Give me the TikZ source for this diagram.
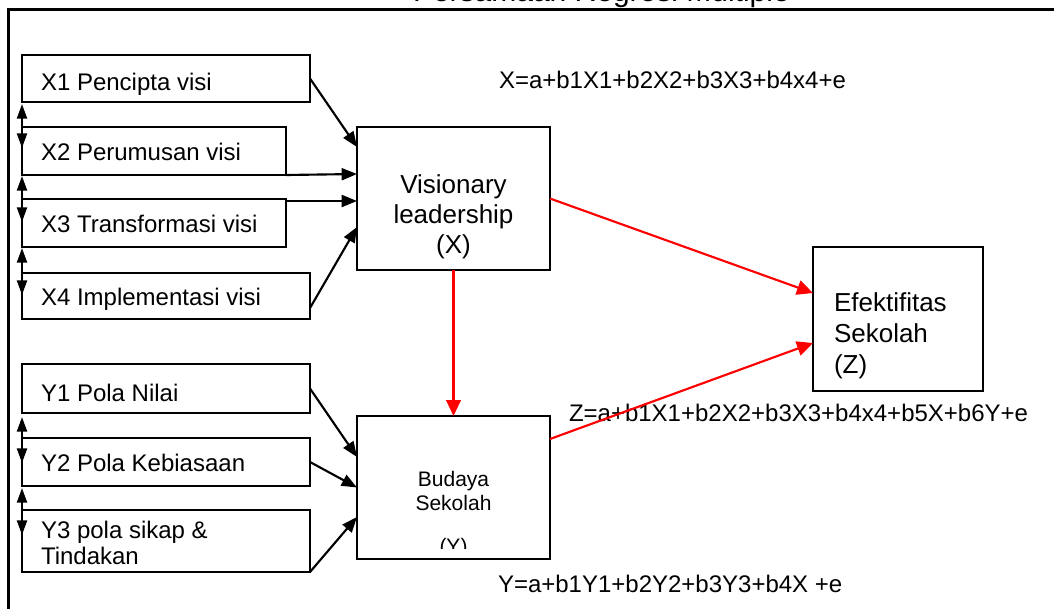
\documentclass[tikz,border=0pt]{standalone}
\usepackage{fontspec}
\setmainfont{Liberation Sans}
\usetikzlibrary{arrows.meta,calc}
\newcommand\fsz[2]{\fontsize{#1}{#2}\selectfont}
\tikzset{
  box/.style={draw,line width=1.5pt,inner sep=0pt,outer sep=0pt,anchor=north west},
  txt/.style={inner sep=0pt,outer sep=0pt,font=\fsz{18pt}{19.5pt}},
  blk/.style={line width=1.6pt,-{Triangle[length=11.5pt,width=9pt]}},
  dbl/.style={line width=1.6pt,{Triangle[length=11pt,width=7.5pt]}-{Triangle[length=11pt,width=7.5pt]}},
  redarr/.style={line width=1.6pt,red,-{Triangle[length=12pt,width=11pt]}}
}
\begin{document}
\begin{tikzpicture}[x=0.75pt,y=-0.75pt]
\useasboundingbox (0,0) rectangle (1054,608);
\clip (0,0) rectangle (1054,608);
% title (clipped) and frame
\node[txt,anchor=base west,font=\fsz{22.5pt}{26pt}] (title) at (413,1.5) {Persamaan Regresi Multiple};
\draw[line width=2.25pt] (8,640) -- (8,9) -- (1080,9);
% boxes
\node[box,minimum width=216pt,minimum height=35.25pt] (X1) at (22,55) {};
\node[box,minimum width=198pt,minimum height=36pt] (X2) at (22,127) {};
\node[box,minimum width=198pt,minimum height=36pt] (X3) at (22,199) {};
\node[box,minimum width=216pt,minimum height=34.5pt] (X4) at (22,273) {};
\node[box,minimum width=216pt,minimum height=36.75pt] (Y1) at (22,364) {};
\node[box,minimum width=216pt,minimum height=36pt] (Y2) at (22,438) {};
\node[box,minimum width=216pt,minimum height=46.5pt] (Y3) at (22,510) {};
\node[box,minimum width=144.75pt,minimum height=107.25pt] (V) at (357,127) {};
\node[box,minimum width=144.75pt,minimum height=107.25pt] (B) at (357,416) {};
\node[box,minimum width=127.5pt,minimum height=108pt] (E) at (813,247) {};
% box texts
\node[txt,anchor=base west] (tX1) at (41,90) {X1 Pencipta visi};
\node[txt,anchor=base west] (tX2) at (41,160) {X2 Perumusan visi};
\node[txt,anchor=base west] (tX3) at (41,232) {X3 Transformasi visi};
\node[txt,anchor=base west] (tX4) at (41,305) {X4 Implementasi visi};
\node[txt,anchor=base west] (tY1) at (41,401.5) {Y1 Pola Nilai};
\node[txt,anchor=base west] (tY2) at (41,471.5) {Y2 Pola Kebiasaan};
\node[txt,anchor=north west,align=left] (tY3) at (41,521.5) {Y3 pola sikap \&\\Tindakan};
\node[txt,anchor=north,align=center,font=\fsz{19.5pt}{22.5pt}] (tV) at (453.5,174.4) {Visionary\\leadership\\(X)};
\node[txt,anchor=north west,align=left,font=\fsz{19.5pt}{23.25pt}] (tE) at (834,293) {Efektifitas\\Sekolah\\(Z)};
\node[txt,anchor=north,align=center,font=\fsz{15.75pt}{18pt}] (tB) at (453.5,471.7) {Budaya\\Sekolah};
\begin{scope}
\clip (357,416) rectangle (550,548.5);
\node[txt,anchor=base,font=\fsz{15.75pt}{18pt}] (tBY) at (453.5,553) {(Y)};
\end{scope}
% equations
\node[txt,anchor=base west] (eqX) at (499,88.3) {X=a+b1X1+b2X2+b3X3+b4x4+e};
\node[txt,anchor=base west] (eqZ) at (569,421.7) {Z=a+b1X1+b2X2+b3X3+b4x4+b5X+b6Y+e};
\node[txt,anchor=base west] (eqY) at (498,592.7) {Y=a+b1Y1+b2Y2+b3Y3+b4X +e};
% double arrows on the left
\draw[dbl] ($(X1.south west)+(0,2)$) -- ($(X2.west)+(0,-3)$);
\draw[dbl] ($(X2.south west)+(0,1)$) -- ($(X3.west)+(0,-1)$);
\draw[dbl] ($(X3.south west)+(0,1)$) -- ($(X4.west)+(0,-1)$);
\draw[dbl] ($(Y1.south west)+(0,4)$) -- ($(Y2.west)+(0,1)$);
\draw[dbl] ($(Y2.south west)+(0,2)$) -- ($(Y3.west)+(0,-6)$);
% black arrows
\draw[blk] (X1.east) -- ($(V.west)+(0,-51.5)$);
\draw[blk] (X2.south east) -- ($(V.west)+(0,-24.5)$);
\draw[blk] ($(X3.north east)+(0,2)$) -- ($(V.west)+(0,2.5)$);
\draw[blk] ($(X4.east)+(0,12)$) -- ($(V.west)+(0,28.5)$);
\draw[blk] (Y1.east) -- ($(B.west)+(0,-30.5)$);
\draw[blk] (Y2.east) -- (B.west);
\draw[blk] (Y3.south east) -- ($(B.west)+(0,29.5)$);
% red arrows
\draw[redarr] (V.east) -- ($(E.west)+(0,-26)$);
\draw[redarr] (V.south) -- (B.north);
\draw[redarr] ($(B.east)+(0,-48.5)$) -- ($(E.west)+(0,24)$);
\end{tikzpicture}
\end{document}
